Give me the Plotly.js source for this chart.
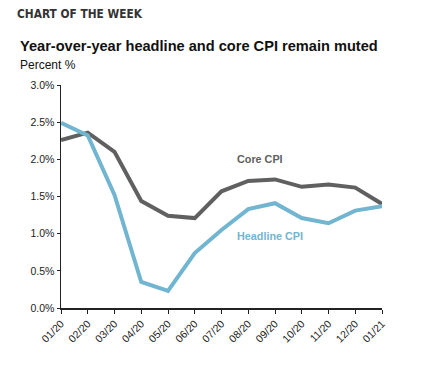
<!DOCTYPE html>
<html><head><meta charset="utf-8">
<script src="https://cdn.plot.ly/plotly-3.0.1.min.js"></script>
<style>body{margin:0;background:#fff}#c{width:425px;height:376px}</style>
</head><body><div id="c"></div>
<script>
const months = ["01/20","02/20","03/20","04/20","05/20","06/20","07/20","08/20","09/20","10/20","11/20","12/20","01/21"];
const coreCPI = [2.26,2.36,2.10,1.44,1.24,1.21,1.57,1.71,1.73,1.63,1.66,1.62,1.40];
const headlineCPI = [2.49,2.32,1.52,0.35,0.23,0.74,1.05,1.33,1.41,1.21,1.14,1.31,1.37];
const yTicks = [0,0.5,1,1.5,2,2.5,3];
const yTickText = yTicks.map(v => v.toFixed(1) + "%");

const data = [
  {x: months, y: coreCPI, type: "scatter", mode: "lines", name: "Core CPI",
   line: {color: "#606060", width: 4}},
  {x: months, y: headlineCPI, type: "scatter", mode: "lines", name: "Headline CPI",
   line: {color: "#72b5d0", width: 4}}
];
const layout = {
  width: 425, height: 376,
  margin: {l: 61, r: 43, t: 85, b: 68},
  showlegend: false,
  paper_bgcolor: "#fff", plot_bgcolor: "#fff",
  font: {family: "Liberation Sans, Arial, sans-serif", color: "#222"},
  xaxis: {type: "category", showgrid: false, zeroline: false, showline: true,
    linecolor: "#222", linewidth: 1.5, ticks: "outside", ticklen: 4, tickcolor: "#222",
    tickangle: -45, tickfont: {size: 10.5, color: "#222"}, range: [0, 12]},
  yaxis: {range: [0, 3], tickvals: yTicks, ticktext: yTickText, showgrid: false,
    zeroline: false, showline: true, linecolor: "#222", linewidth: 1.5,
    ticks: "outside", ticklen: 3, tickcolor: "#222", tickfont: {size: 10.5, color: "#222"}},
  annotations: [
    {xref: "paper", yref: "paper", x: -0.143, y: 1.32, xanchor: "left", yanchor: "middle",
     text: "<b>CHART OF THE WEEK</b>", showarrow: false,
     font: {family: "DejaVu Sans Condensed, Liberation Sans Narrow, sans-serif", size: 11.8, color: "#333"}},
    {xref: "paper", yref: "paper", x: -0.135, y: 1.175, xanchor: "left", yanchor: "middle",
     text: "<b>Year-over-year headline and core CPI remain muted</b>", showarrow: false,
     font: {size: 14.6, color: "#111"}},
    {xref: "paper", yref: "paper", x: -0.135, y: 1.09, xanchor: "left", yanchor: "middle",
     text: "Percent %", showarrow: false, font: {size: 12, color: "#111"}},
    {xref: "x", yref: "y", x: 6.5, y: 2.0, xanchor: "left", yanchor: "middle",
     text: "<b>Core CPI</b>", showarrow: false, font: {size: 10.8, color: "#606060"}},
    {xref: "x", yref: "y", x: 6.5, y: 0.97, xanchor: "left", yanchor: "middle",
     text: "<b>Headline CPI</b>", showarrow: false, font: {size: 10.8, color: "#72b5d0"}}
  ]
};
Plotly.newPlot("c", data, layout, {displayModeBar: false, staticPlot: true});
</script></body></html>
